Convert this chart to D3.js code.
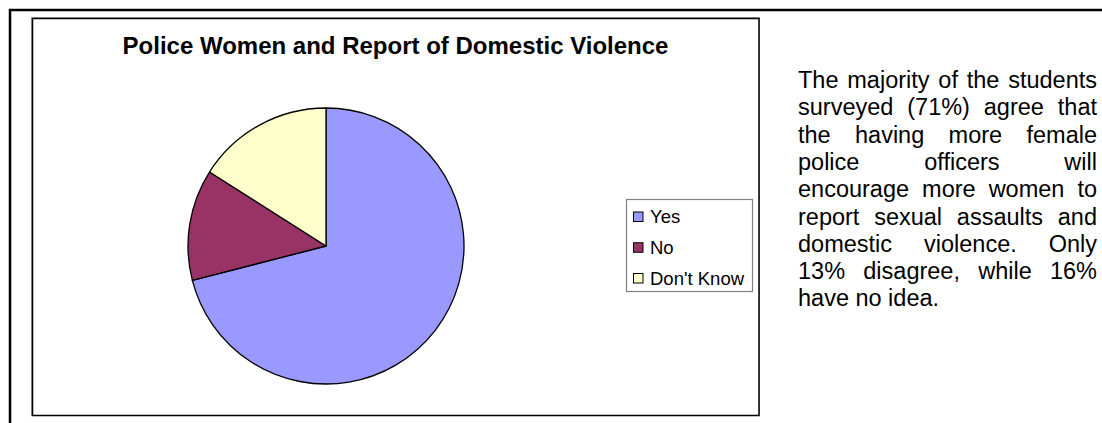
<!DOCTYPE html>
<html>
<head>
<meta charset="utf-8">
<script src="https://cdn.jsdelivr.net/npm/d3@7"></script>
<style>
  body { margin: 0; background: #fff; }
  svg { display: block; font-family: "Liberation Sans", Arial, sans-serif; }
</style>
</head>
<body>
<div id="chart"></div>
<script>
// data
var categories = ["Yes", "No", "Don't Know"];
var values = [71, 13, 16];
var colors = ["#9999FF", "#993366", "#FFFFCC"];
var title = "Police Women and Report of Domestic Violence";
var noteLines = [
  "The majority of the students",
  "surveyed (71%) agree that",
  "the having more female",
  "police officers will",
  "encourage more women to",
  "report sexual assaults and",
  "domestic violence. Only",
  "13% disagree, while 16%",
  "have no idea."
];

// dimensions
var svgWidth = 1102;
var svgHeight = 423;

var svg = d3.select("#chart").append("svg")
  .attr("width", svgWidth)
  .attr("height", svgHeight);

// outer page frame
svg.append("path")
  .attr("d", "M10,423 V10 H1102")
  .attr("fill", "none")
  .attr("stroke", "#000")
  .attr("stroke-width", 2.5);

// chart area (grey edge + black border)
svg.append("rect")
  .attr("x", 31.5).attr("y", 17.5)
  .attr("width", 728).attr("height", 398)
  .attr("fill", "#fff")
  .attr("stroke", "#aaa")
  .attr("stroke-width", 1);

svg.append("rect")
  .attr("x", 32.5).attr("y", 18.5)
  .attr("width", 726.5).attr("height", 397)
  .attr("fill", "none")
  .attr("stroke", "#000")
  .attr("stroke-width", 1.5);

svg.append("text")
  .attr("x", 395.5)
  .attr("y", 54)
  .attr("text-anchor", "middle")
  .attr("font-weight", "bold")
  .attr("font-size", "24px")
  .text(title);

// pie
var cx = 326, cy = 246, radius = 138;
var pie = d3.pie().sort(null).value(d => d);
var arc = d3.arc().innerRadius(0).outerRadius(radius);

var pieGroup = svg.append("g")
  .attr("transform", `translate(${cx}, ${cy})`);

pieGroup.selectAll("path")
  .data(pie(values))
  .enter()
  .append("path")
  .attr("d", arc)
  .attr("fill", (d, i) => colors[i])
  .attr("stroke", "#000")
  .attr("stroke-width", 1.3)
  .attr("stroke-linejoin", "round");

// legend
var legend = svg.append("g");
legend.append("rect")
  .attr("x", 626.5).attr("y", 199.5)
  .attr("width", 126).attr("height", 92)
  .attr("fill", "#fff")
  .attr("stroke", "#808080")
  .attr("stroke-width", 1.2);

var legendY = d3.scalePoint()
  .domain(categories)
  .range([216.5, 278]);

var items = legend.selectAll("g.item")
  .data(categories)
  .enter()
  .append("g")
  .attr("class", "item")
  .attr("transform", d => `translate(633, ${legendY(d)})`);

items.append("rect")
  .attr("x", 0.5).attr("y", -4.5)
  .attr("width", 9.5).attr("height", 9.5)
  .attr("fill", (d, i) => colors[i])
  .attr("stroke", "#000")
  .attr("stroke-width", 1);

items.append("text")
  .attr("x", 17)
  .attr("dy", "0.36em")
  .attr("font-size", "18.5px")
  .text(d => d);

// justified note on the right
var noteLeft = 798, noteRight = 1097, noteTop = 88, lineGap = 27.3;
var note = svg.append("g").attr("font-size", "23.5px");

noteLines.forEach(function(line, li) {
  var words = line.split(" ");
  var y = noteTop + li * lineGap;
  var nodes = words.map(w => note.append("text").attr("y", y).text(w));
  var widths = nodes.map(n => n.node().getComputedTextLength());
  var total = d3.sum(widths);
  var last = li === noteLines.length - 1;
  var gap = (last || words.length < 2) ? 6.5 : (noteRight - noteLeft - total) / (words.length - 1);
  var x = noteLeft;
  nodes.forEach(function(n, i) {
    n.attr("x", x);
    x += widths[i] + gap;
  });
});
</script>
</body>
</html>
